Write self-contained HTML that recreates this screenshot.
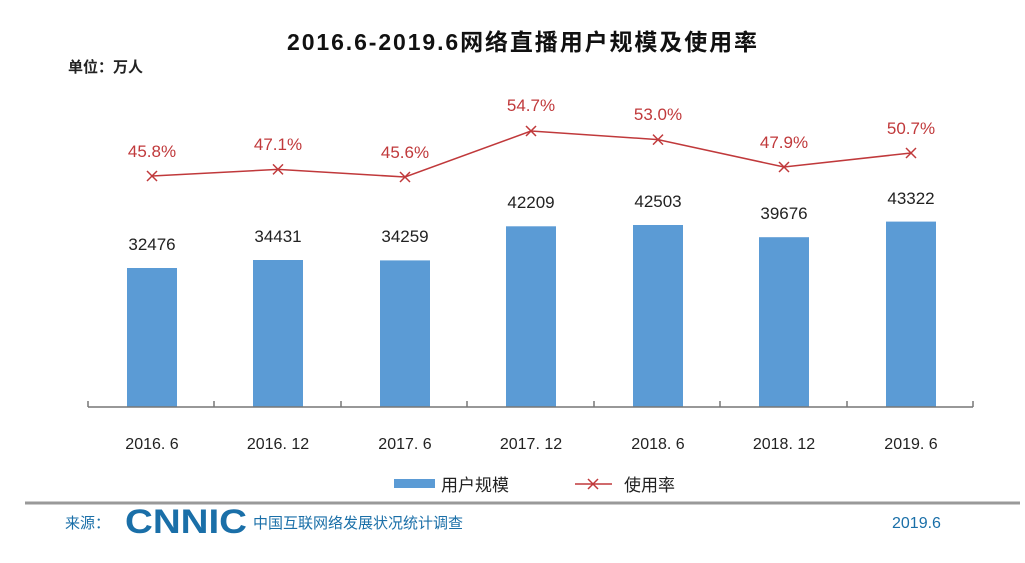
<!DOCTYPE html>
<html><head><meta charset="utf-8"><style>
body{margin:0;width:1025px;height:558px;background:#fff;overflow:hidden}
text{font-family:"Liberation Sans","Noto Sans CJK SC",sans-serif}
</style></head><body>
<svg width="1025" height="558" xmlns="http://www.w3.org/2000/svg">
<text x="522" y="50" text-anchor="middle" font-size="23" font-weight="bold" fill="#111" textLength="470">2016.6-2019.6网络直播用户规模及使用率</text>
<text x="68" y="72" font-size="15" font-weight="bold" fill="#222">单位：万人</text>
<g fill="#5b9bd5">
<rect x="127" y="268" width="50" height="139"/>
<rect x="253" y="260" width="50" height="147"/>
<rect x="380" y="260.4" width="50" height="146.6"/>
<rect x="506" y="226.3" width="50" height="180.7"/>
<rect x="633" y="225" width="50" height="182"/>
<rect x="759" y="237.2" width="50" height="169.8"/>
<rect x="886" y="221.6" width="50" height="185.4"/>
</g>
<g stroke="#777" stroke-width="1.5">
<line x1="88" y1="407" x2="973" y2="407"/>
<line x1="88" y1="401" x2="88" y2="407"/><line x1="214" y1="401" x2="214" y2="407"/>
<line x1="341" y1="401" x2="341" y2="407"/><line x1="467" y1="401" x2="467" y2="407"/>
<line x1="594" y1="401" x2="594" y2="407"/><line x1="720" y1="401" x2="720" y2="407"/>
<line x1="847" y1="401" x2="847" y2="407"/><line x1="973" y1="401" x2="973" y2="407"/>
</g>
<g font-size="17" fill="#222" text-anchor="middle">
<text x="152" y="250">32476</text><text x="278" y="242">34431</text><text x="405" y="242">34259</text>
<text x="531" y="208">42209</text><text x="658" y="207">42503</text><text x="784" y="219">39676</text>
<text x="911" y="204">43322</text>
</g>
<g font-size="16" fill="#222" text-anchor="middle">
<text x="152" y="449">2016. 6</text><text x="278" y="449">2016. 12</text><text x="405" y="449">2017. 6</text>
<text x="531" y="449">2017. 12</text><text x="658" y="449">2018. 6</text><text x="784" y="449">2018. 12</text>
<text x="911" y="449">2019. 6</text>
</g>
<polyline fill="none" stroke="#c0393b" stroke-width="1.5" points="152,176 278,169.4 405,177 531,131 658,139.6 784,167 911,153"/>
<g stroke="#c0393b" stroke-width="1.5">
<path d="M147,171l10,10M157,171l-10,10"/><path d="M273,164.4l10,10M283,164.4l-10,10"/>
<path d="M400,172l10,10M410,172l-10,10"/><path d="M526,126l10,10M536,126l-10,10"/>
<path d="M653,134.6l10,10M663,134.6l-10,10"/><path d="M779,162l10,10M789,162l-10,10"/>
<path d="M906,148l10,10M916,148l-10,10"/>
</g>
<g font-size="17" fill="#c0393b" text-anchor="middle">
<text x="152" y="157">45.8%</text><text x="278" y="150">47.1%</text><text x="405" y="158">45.6%</text>
<text x="531" y="111">54.7%</text><text x="658" y="120">53.0%</text><text x="784" y="148">47.9%</text>
<text x="911" y="134">50.7%</text>
</g>
<rect x="394" y="479" width="41" height="9" fill="#5b9bd5"/>
<text x="441" y="491" font-size="17" fill="#222">用户规模</text>
<line x1="575" y1="484" x2="612" y2="484" stroke="#c0393b" stroke-width="1.5"/>
<path d="M588,479l10,10M598,479l-10,10" stroke="#c0393b" stroke-width="1.5"/>
<text x="624" y="491" font-size="17" fill="#222">使用率</text>
<line x1="25" y1="503" x2="1020" y2="503" stroke="#999" stroke-width="3"/>
<text x="65" y="528" font-size="15" fill="#1a6fa8">来源：</text>
<text x="125" y="533" font-size="34" font-weight="bold" fill="#1a6fa8" textLength="122" lengthAdjust="spacingAndGlyphs">CNNIC</text>
<text x="253" y="528" font-size="15" fill="#1a6fa8">中国互联网络发展状况统计调查</text>
<text x="892" y="528" font-size="16" fill="#1a6fa8">2019.6</text>
</svg>
</body></html>
